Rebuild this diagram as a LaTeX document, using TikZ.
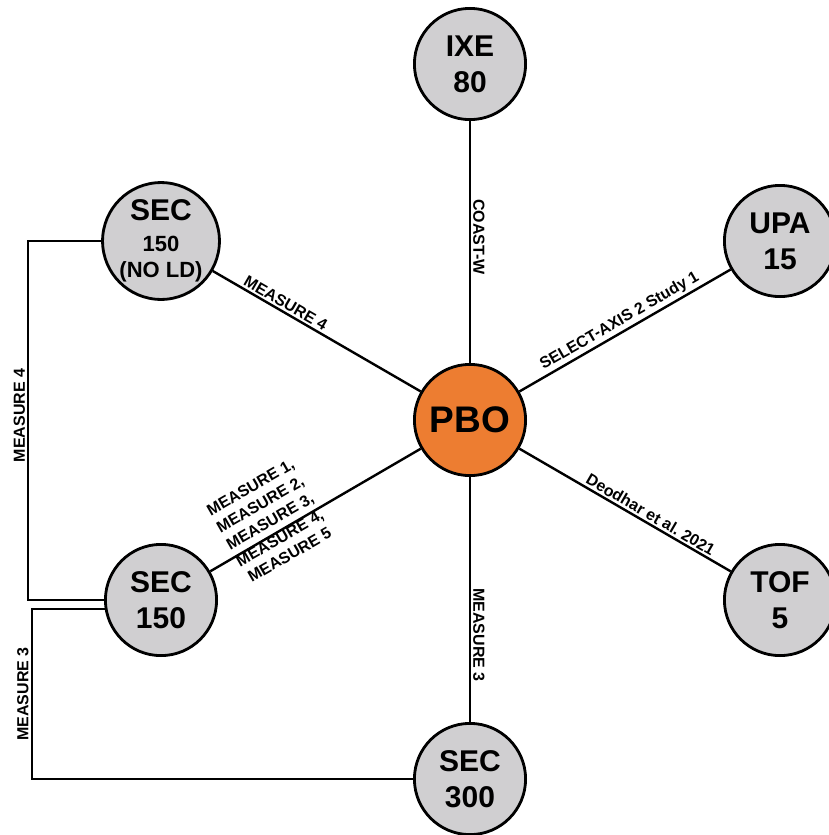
\documentclass[tikz,border=0pt]{standalone}
\usepackage{fontspec}
\setmainfont{Liberation Sans}
\usetikzlibrary{calc}
\definecolor{nodegray}{RGB}{208,207,209}
\definecolor{pboorange}{RGB}{237,125,49}
\frenchspacing
\begin{document}
\begin{tikzpicture}[x=1pt,y=-1pt,
  circ/.style={circle, draw=black, line width=2.8pt, fill=nodegray, minimum size=111.2pt, inner sep=0pt, align=center, font=\bfseries\fontsize{30}{36}\selectfont},
  conn/.style={line width=2.4pt, draw=black},
  lab/.style={font=\bfseries\fontsize{16}{19.5}\selectfont, inner sep=2pt}]
\useasboundingbox (0,0) rectangle (829,835);

\node[circ] (ixe) at (470,64) {IXE\\80};
\node[circ] (upa) at (780,241) {UPA\\15};
\node[circ, font=\bfseries\fontsize{22}{26}\selectfont] (nold) at (161,241) {{\fontsize{30}{30}\selectfont SEC}\\[5pt]150\\(NO LD)};
\node[circ, fill=pboorange, font=\bfseries\fontsize{37}{40}\selectfont] (pbo) at (470,420) {PBO};
\node[circ] (s150) at (161,600) {SEC\\150};
\node[circ] (tof) at (780,600) {TOF\\5};
\node[circ] (s300) at (470,779) {SEC\\300};

\draw[conn] (ixe) -- node[lab, pos=0.48, rotate=-90, anchor=south] (lcoast) {COAST-W} (pbo);
\draw[conn] (pbo) -- node[lab, pos=0.5, sloped, above] (lsel) {SELECT-AXIS 2 Study 1} (upa);
\draw[conn] (pbo) -- node[lab, pos=0.6, sloped, above] (ldeo) {Deodhar et al. 2021} (tof);
\draw[conn] (nold) -- node[lab, pos=0.33, sloped, above] (lm4) {MEASURE 4} (pbo);
\draw[conn] (s150) -- (pbo);
\node[lab, rotate=30, align=center] (lmulti) at (270,521) {MEASURE 1,\\MEASURE 2,\\MEASURE 3,\\MEASURE 4,\\MEASURE 5};
\draw[conn] (pbo) -- node[lab, pos=0.645, rotate=-90, anchor=south] (lm3b) {MEASURE 3} (s300);
\draw[conn] (nold.west) -- ++(-73,0) |- node[lab, pos=0.243, rotate=90, anchor=south] (lm4l) {MEASURE 4} (s150.west);
\draw[conn] (s150.189) -- ++(-73,0) |- node[lab, pos=0.25, rotate=90, anchor=south] (lm3l) {MEASURE 3} (s300.west);
\end{tikzpicture}
\end{document}
